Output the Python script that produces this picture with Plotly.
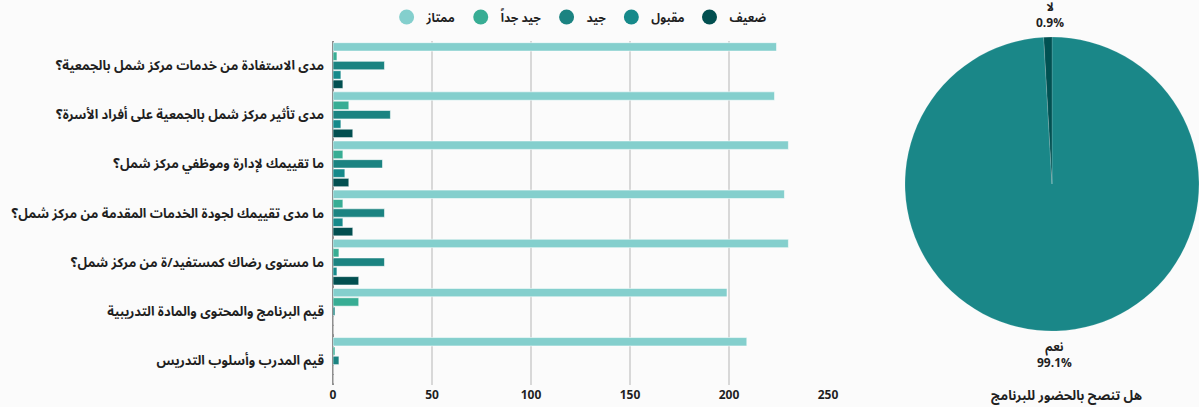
import plotly.graph_objects as go

W, H = 1199, 407

categories = [
    "مدى الاستفادة من خدمات مركز شمل بالجمعية؟",
    "مدى تأثير مركز شمل بالجمعية على أفراد الأسرة؟",
    "ما تقييمك لإدارة وموظفي مركز شمل؟",
    "ما مدى تقييمك لجودة الخدمات المقدمة من مركز شمل؟",
    "ما مستوى رضاك كمستفيد/ة من مركز شمل؟",
    "قيم البرنامج والمحتوى والمادة التدريبية",
    "قيم المدرب وأسلوب التدريس",
]

excellent = [224, 223, 230, 228, 230, 199, 209]   # ممتاز
very_good = [2, 8, 5, 5, 3, 13, 1]                # جيد جداً
good = [26, 29, 25, 26, 26, 1, 3]                 # جيد
acceptable = [4, 4, 6, 5, 2, 0, 0]                # مقبول
weak = [5, 10, 8, 10, 13, 0, 0]                   # ضعيف

series_names = ["ممتاز", "جيد جداً", "جيد", "مقبول", "ضعيف"]
series_values = [excellent, very_good, good, acceptable, weak]
series_colors = ["#84cfcd", "#38ad94", "#1b8381", "#16898a", "#024f50"]

x_ticks = [0, 50, 100, 150, 200, 250]

pie_labels = ["نعم", "لا"]
pie_values = [99.1, 0.9]
pie_colors = ["#1a8788", "#005152"]
pie_title = "هل تنصح بالحضور للبرنامج"

FONT = "Noto Sans Arabic, Noto Kufi Arabic, Tajawal, Cairo, Noto Sans, DejaVu Sans, sans-serif"
TXT = "#1f1f1f"

fig = go.Figure()

# bars: bottom-of-group first (ضعيف) so ممتاز is on top
for name, vals, col in reversed(list(zip(series_names, series_values, series_colors))):
    fig.add_trace(go.Bar(
        name=name, x=vals, y=categories, orientation="h",
        marker=dict(color=col, line=dict(color="rgba(255,255,255,0.55)", width=1)),
        showlegend=False, legendgroup=name, hoverinfo="x+name",
    ))

# legend entries with circular markers
for name, col in zip(series_names, series_colors):
    fig.add_trace(go.Scatter(
        x=[None], y=[None], mode="markers", name=name, legendgroup=name,
        marker=dict(color=col, size=15, symbol="circle"),
        showlegend=True,
    ))

pie_x0, pie_y_top, pie_y_bot = 905, 36, 332
fig.add_trace(go.Pie(
    labels=pie_labels, values=pie_values,
    marker=dict(colors=pie_colors, line=dict(color="rgba(255,255,255,0.3)", width=0.5)),
    textinfo="none",
    sort=False, direction="clockwise", rotation=0,
    domain=dict(x=[pie_x0 / W, 1.0], y=[(H - pie_y_bot) / H, (H - pie_y_top) / H]),
    showlegend=False, hole=0,
))

total = sum(pie_values)
pcts = [v / total * 100 for v in pie_values]

# pie label blocks: (x, block centre y) in pixels
pie_label_pos = {
    "نعم": (1054, 355),
    "لا": (1050, 15),
}

annotations = []
for lab, pct in zip(pie_labels, pcts):
    px, cy = pie_label_pos[lab]
    annotations.append(dict(
        text="<b>" + lab + "</b><br><b>" + f"{pct:.1f}%" + "</b>",
        x=px / W, y=(H - cy) / H, xref="paper", yref="paper",
        showarrow=False, xanchor="center", yanchor="middle", align="center",
        font=dict(family=FONT, size=12, color=TXT),
    ))
annotations.append(dict(
    text="<b>" + pie_title + "</b>", x=1066 / W, y=(H - 396) / H,
    xref="paper", yref="paper", showarrow=False, xanchor="center", yanchor="middle",
    font=dict(family=FONT, size=13, color=TXT),
))

fig.update_layout(
    width=W, height=H,
    margin=dict(l=0, r=0, t=0, b=0, autoexpand=False),
    paper_bgcolor="#fbfbfb", plot_bgcolor="rgba(0,0,0,0)",
    barmode="group", bargap=0.05, bargroupgap=0.1,
    font=dict(family=FONT, size=12, color=TXT),
    legend=dict(
        orientation="h", x=0.483, xanchor="center", y=(H - 17) / H, yanchor="middle",
        font=dict(family=FONT, size=12, color=TXT, weight="bold"),
        bgcolor="rgba(0,0,0,0)", tracegroupgap=0,
    ),
    xaxis=dict(
        domain=[333 / W, 828 / W], range=[0, 250], tickvals=x_ticks,
        showgrid=True, gridcolor="#d8d8d8", gridwidth=2,
        zeroline=True, zerolinecolor="#8f8f8f", zerolinewidth=2,
        tickfont=dict(family=FONT, size=12, color=TXT, weight="bold"),
        ticks="", showline=False, fixedrange=True, ticklabelstandoff=1,
    ),
    yaxis=dict(
        domain=[(H - 385) / H, (H - 41) / H],
        categoryorder="array", categoryarray=list(reversed(categories)),
        showgrid=False, zeroline=False, ticks="", ticklabelstandoff=8,
        tickfont=dict(family=FONT, size=13, color=TXT, weight="bold"),
        automargin=False,
    ),
    annotations=annotations,
)

fig.write_html(
    "out.html",
    config={"displayModeBar": False},
    post_script="document.body.style.margin='0';document.body.style.overflow='hidden';"
                "document.documentElement.style.overflow='hidden';",
)
